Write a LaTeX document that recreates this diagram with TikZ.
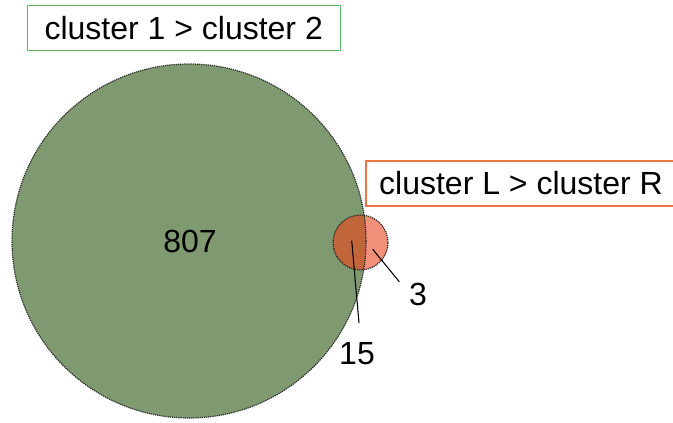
\documentclass[tikz,border=0pt]{standalone}
\usepackage{fontspec}
\setmainfont{Liberation Sans}
\definecolor{biggreen}{HTML}{7F9A70}
\definecolor{overlapred}{HTML}{C1653B}
\definecolor{salmon}{HTML}{F3907A}
\definecolor{greenborder}{HTML}{5DBE62}
\definecolor{orangeborder}{HTML}{F07545}
\begin{document}
\begin{tikzpicture}[x=0.75pt,y=-0.75pt,
  lbl/.style={font=\fontsize{24}{28}\selectfont, inner sep=0pt},
  titlebox/.style={lbl, draw, line width=0.8pt, minimum height=33.75pt, anchor=center},
  rim/.style={draw=black!85, dash pattern=on 0.9pt off 0.7pt, line width=0.9pt},
  leader/.style={draw=black, line width=0.8pt}]
\useasboundingbox (0,0) rectangle (673,422);
% circles
\coordinate (bigc) at (189,241);
\coordinate (smallc) at (360.5,242.5);
\fill[biggreen] (bigc) circle[radius=132.75pt];
\fill[salmon] (smallc) circle[radius=20.6pt];
\begin{scope}
  \clip (bigc) circle[radius=132.75pt];
  \fill[overlapred] (smallc) circle[radius=20.6pt];
\end{scope}
\draw[rim] (bigc) circle[radius=132.75pt];
\draw[rim] (smallc) circle[radius=20.6pt];
% title boxes
\node[titlebox, draw=greenborder, minimum width=234.75pt] (t1) at (183.7,28) {cluster 1 > cluster 2};
\begin{scope}
\clip (0,0) rectangle (673,422);
\node[titlebox, draw=orangeborder, minimum width=232.5pt] (t2) at (521,183.5) {cluster L > cluster R};
\end{scope}
% numbers
\node[lbl, anchor=base] (n807) at (190,252) {807};
\node[lbl, anchor=base] (n3) at (418,305) {3};
\node[lbl, anchor=base] (n15) at (357,364) {15};
% leaders
\coordinate (p15) at (351.7,240.7);
\coordinate (q15) at (359,323);
\coordinate (p3) at (372.7,249.3);
\coordinate (q3) at (399.3,281.7);
\draw[leader] (p15) -- (q15);
\draw[leader] (p3) -- (q3);
\end{tikzpicture}
\end{document}
